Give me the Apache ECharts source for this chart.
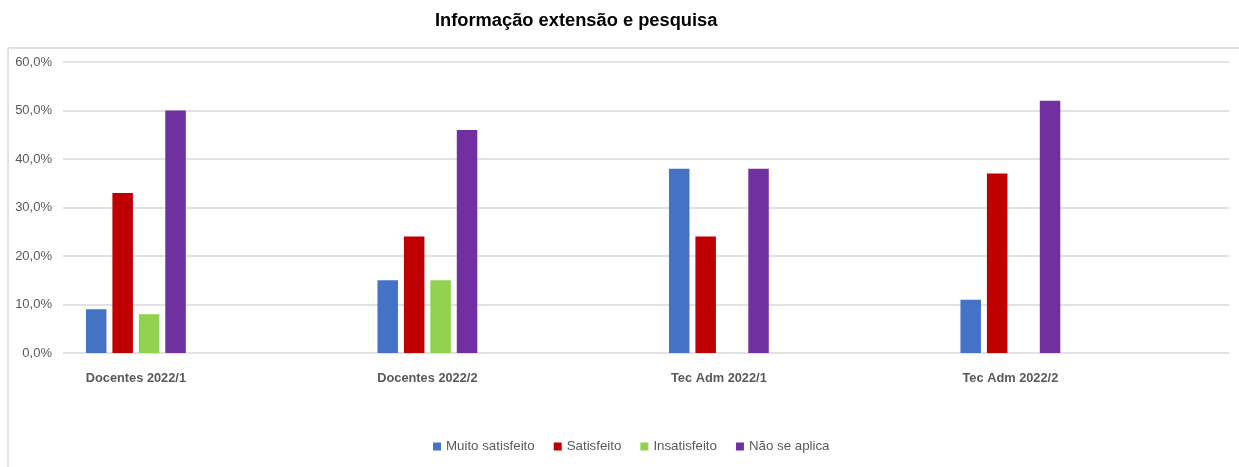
<!DOCTYPE html>
<html>
<head>
<meta charset="utf-8">
<script src="https://cdn.jsdelivr.net/npm/echarts@6/dist/echarts.min.js"></script>
<style>
  html, body { margin: 0; padding: 0; background: #fff; }
  #chart { width: 1239px; height: 467px; }
</style>
</head>
<body>
<div id="chart"></div>
<script>
// dados
const categories = ['Docentes 2022/1', 'Docentes 2022/2', 'Tec Adm 2022/1', 'Tec Adm 2022/2']
const muitoSatisfeito = [9, 15, 38, 11]
const satisfeito = [33, 24, 24, 37]
const insatisfeito = [8, 15, 0, 0]
const naoSeAplica = [50, 46, 38, 52]
const yTicks = [0, 10, 20, 30, 40, 50, 60]

const seriesDefs = [
  { name: 'Muito satisfeito', data: muitoSatisfeito, color: '#4472c4' },
  { name: 'Satisfeito', data: satisfeito, color: '#c00000' },
  { name: 'Insatisfeito', data: insatisfeito, color: '#92d050' },
  { name: 'Não se aplica', data: naoSeAplica, color: '#7030a0' }
]

const font = '"Liberation Sans", Arial, sans-serif'
const catIdx = categories.map((c, i) => i)
const chart = echarts.init(document.getElementById('chart'), null, { renderer: 'canvas' })

chart.setOption({
  backgroundColor: '#fff',
  animation: false,
  title: {
    text: 'Informação extensão e pesquisa',
    left: 430,
    top: 7,
    textStyle: { fontFamily: font, fontSize: 18.3, fontWeight: 'bold', color: '#000' }
  },
  legend: {
    bottom: 9,
    left: 428,
    itemWidth: 8,
    itemHeight: 8,
    itemGap: 19,
    icon: 'rect',
    textStyle: { fontFamily: font, fontSize: 13.3, color: '#595959' },
    data: seriesDefs.map(s => s.name)
  },
  graphic: [
    { type: 'line', shape: { x1: 8, y1: 48, x2: 1239, y2: 48 }, style: { stroke: '#d9d9d9', lineWidth: 1.5 } },
    { type: 'line', shape: { x1: 8, y1: 48, x2: 8, y2: 467 }, style: { stroke: '#d9d9d9', lineWidth: 1.5 } }
  ],
  grid: { left: 63, right: 10, top: 62, bottom: 114 },
  // eixo de valores com as categorias deslocadas um quarto, como no original
  xAxis: {
    type: 'value',
    min: -0.25,
    max: categories.length - 0.25,
    splitLine: { show: false },
    axisLine: { show: false },
    axisTick: { show: false },
    axisLabel: {
      customValues: catIdx,
      margin: 19,
      fontFamily: font,
      fontSize: 12.8,
      fontWeight: 'bold',
      color: '#595959',
      formatter: v => categories[Math.round(v)] || ''
    }
  },
  yAxis: {
    type: 'value',
    min: yTicks[0],
    max: yTicks[yTicks.length - 1],
    interval: 10,
    axisLine: { show: false },
    axisTick: { show: false },
    splitLine: { lineStyle: { color: '#d9d9d9', width: 1.5 } },
    axisLabel: {
      margin: 11,
      fontFamily: font,
      fontSize: 13,
      color: '#595959',
      formatter: v => v.toFixed(1).replace('.', ',') + '%'
    }
  },
  series: seriesDefs.map(s => ({
    name: s.name,
    type: 'bar',
    barWidth: 20.5,
    barGap: '29%',
    data: s.data.map((v, i) => [catIdx[i], v]),
    itemStyle: { color: s.color }
  }))
})
</script>
</body>
</html>
